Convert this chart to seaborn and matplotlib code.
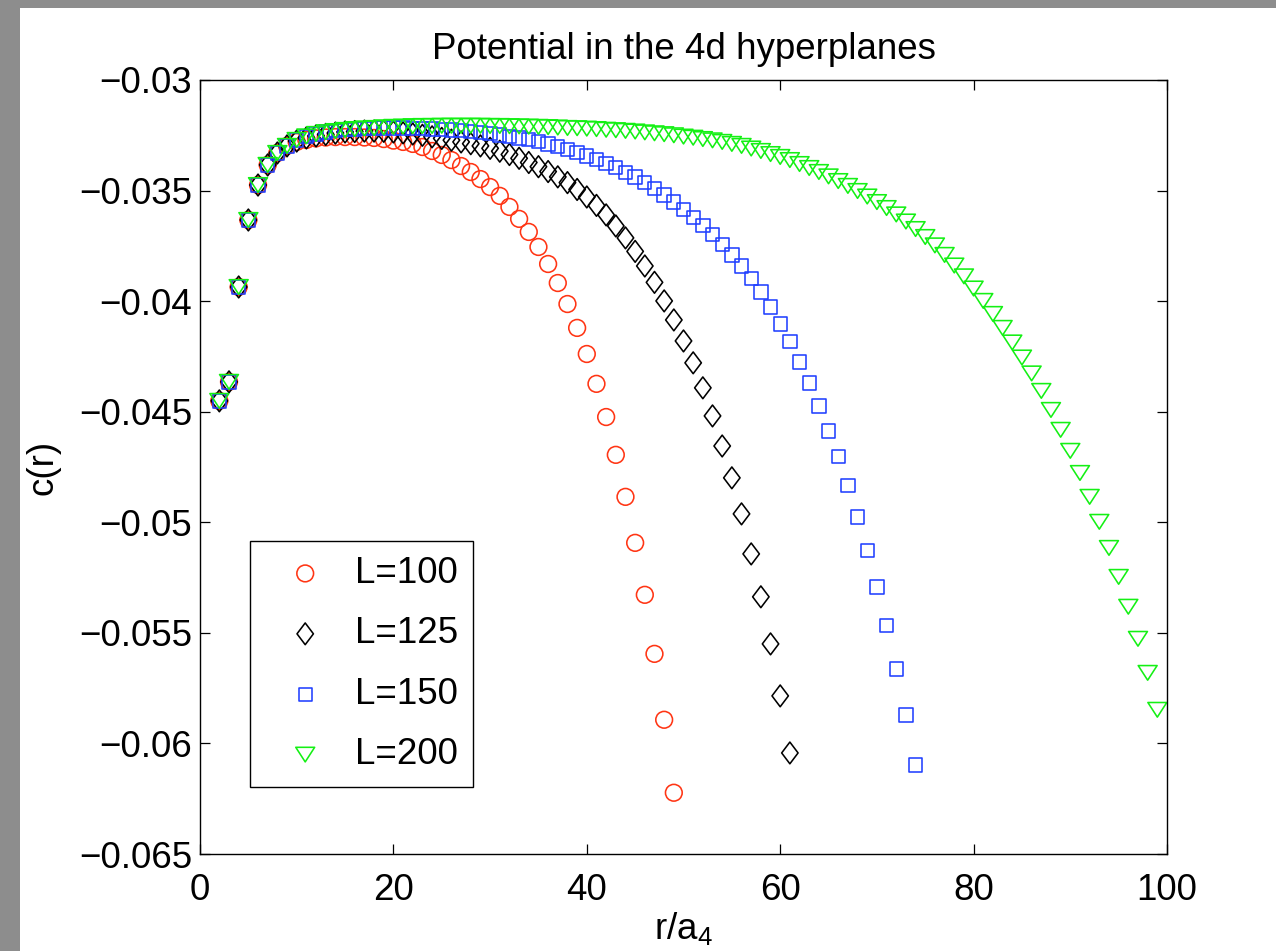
import numpy as np
import pandas as pd
import matplotlib
matplotlib.use("Agg")
import matplotlib.pyplot as plt
from matplotlib.path import Path
from matplotlib.patches import Rectangle
from matplotlib.ticker import FuncFormatter
import seaborn as sns

# Separations r/a_4 sampled for each lattice size L
r_L100 = np.arange(2, 50)
r_L125 = np.arange(2, 62)
r_L150 = np.arange(2, 75)
r_L200 = np.arange(2, 100)

# c(r) values, in units of 1e-3
c_L100 = [-44.51, -43.65, -39.36, -36.33, -34.75, -33.84, -33.30, -32.98,
          -32.80, -32.71, -32.64, -32.60, -32.58, -32.58, -32.58, -32.60, -32.62, -32.67,
          -32.74, -32.80, -32.89, -33.03, -33.21, -33.39, -33.62, -33.89, -34.16, -34.48,
          -34.84, -35.24, -35.74, -36.28, -36.87, -37.55, -38.32, -39.18, -40.13, -41.21,
          -42.39, -43.74, -45.24, -46.95, -48.85, -50.93, -53.28, -55.95, -58.93, -62.23]

c_L125 = [-44.51, -43.65, -39.36, -36.33, -34.75, -33.84, -33.30, -32.98,
          -32.76, -32.62, -32.53, -32.46, -32.40, -32.35, -32.33, -32.31, -32.31, -32.32,
          -32.35, -32.39, -32.44, -32.50, -32.57, -32.64, -32.72, -32.80, -32.88, -32.98,
          -33.09, -33.22, -33.37, -33.54, -33.73, -33.92, -34.14, -34.38, -34.64, -34.95,
          -35.29, -35.67, -36.10, -36.60, -37.14, -37.75, -38.41, -39.15, -39.99, -40.85,
          -41.80, -42.79, -43.92, -45.19, -46.55, -47.99, -49.62, -51.43, -53.37, -55.50,
          -57.85, -60.43]

c_L150 = [-44.51, -43.65, -39.36, -36.33, -34.75, -33.84, -33.30, -32.98,
          -32.71, -32.55, -32.44, -32.35, -32.28, -32.24, -32.21, -32.18, -32.17, -32.17,
          -32.17, -32.17, -32.18, -32.19, -32.21, -32.23, -32.26, -32.29, -32.33, -32.37,
          -32.41, -32.48, -32.55, -32.62, -32.70, -32.79, -32.89, -33.01, -33.14, -33.28,
          -33.43, -33.59, -33.77, -33.96, -34.17, -34.39, -34.64, -34.91, -35.20, -35.52,
          -35.85, -36.21, -36.59, -37.00, -37.44, -37.91, -38.41, -38.97, -39.58, -40.26,
          -41.03, -41.84, -42.75, -43.70, -44.74, -45.87, -47.04, -48.35, -49.76, -51.29,
          -52.92, -54.68, -56.63, -58.71, -60.97]

c_L200 = [-44.51, -43.65, -39.36, -36.33, -34.75, -33.84, -33.30, -32.98,
          -32.71, -32.55, -32.44, -32.36, -32.31, -32.26, -32.22, -32.19, -32.17, -32.14,
          -32.12, -32.11, -32.09, -32.08, -32.08, -32.07, -32.07, -32.07, -32.07, -32.07,
          -32.08, -32.08, -32.09, -32.10, -32.11, -32.12, -32.13, -32.15, -32.17, -32.18,
          -32.20, -32.22, -32.25, -32.27, -32.30, -32.33, -32.37, -32.41, -32.45, -32.50,
          -32.56, -32.61, -32.67, -32.73, -32.80, -32.89, -32.98, -33.10, -33.21, -33.35,
          -33.48, -33.62, -33.80, -33.98, -34.16, -34.36, -34.57, -34.79, -35.02, -35.27,
          -35.52, -35.79, -36.08, -36.40, -36.74, -37.10, -37.48, -37.91, -38.39, -38.88,
          -39.43, -39.99, -40.58, -41.21, -41.87, -42.55, -43.27, -44.06, -44.92, -45.82,
          -46.77, -47.77, -48.85, -49.98, -51.16, -52.47, -53.82, -55.27, -56.81, -58.48]

labels = ["L=100", "L=125", "L=150", "L=200"]
colors = ["#ff3514", "#000000", "#2040ff", "#14f014"]

x_ticks = [0, 20, 40, 60, 80, 100]
y_ticks = [-0.065, -0.06, -0.055, -0.05, -0.045, -0.04, -0.035, -0.03]

frames = []
for lab, r, c in zip(labels, [r_L100, r_L125, r_L150, r_L200],
                     [c_L100, c_L125, c_L150, c_L200]):
    frames.append(pd.DataFrame({"r": r, "c": np.asarray(c) * 1e-3, "L": lab}))
df = pd.concat(frames, ignore_index=True)

sns.set_style("ticks")
plt.rcParams["font.family"] = ["Liberation Sans", "DejaVu Sans"]
plt.rcParams["mathtext.fontset"] = "custom"
plt.rcParams["mathtext.rm"] = "Liberation Sans"
plt.rcParams["axes.unicode_minus"] = True
plt.rcParams["text.color"] = "black"
plt.rcParams["axes.labelcolor"] = "black"
plt.rcParams["xtick.color"] = "black"
plt.rcParams["ytick.color"] = "black"

FS = 26.5

# open markers shaped like the classic MATLAB glyphs
diamond = Path([(0, 1), (0.755, 0), (0, -1), (-0.755, 0), (0, 1)], closed=True)
tri_down = Path([(-1, 0.774), (1, 0.774), (0, -0.774), (-1, 0.774)], closed=True)
markers = ["o", diamond, "s", tri_down]
sizes = [145, 245, 92, 185]

fig = plt.figure(figsize=(12.76, 9.51), dpi=100)
fig.patch.set_facecolor("white")
# grey strips along the top and left edges
fig.patches.append(Rectangle((0, 0), 20 / 1276, 1, transform=fig.transFigure,
                             facecolor="#8d8d8d", edgecolor="none", zorder=-5))
fig.patches.append(Rectangle((0, 1 - 8 / 951), 1, 8 / 951, transform=fig.transFigure,
                             facecolor="#8d8d8d", edgecolor="none", zorder=-5))

ax = fig.add_axes([200 / 1276, 1 - 854 / 951, 967 / 1276, 774 / 951])

for lab, col, m, s in zip(labels, colors, markers, sizes):
    sub = df[df["L"] == lab]
    sns.scatterplot(data=sub, x="r", y="c", ax=ax, marker=m, s=s,
                    color=col, facecolor="none", edgecolor=col,
                    linewidth=1.15, label=lab, legend=False)

ax.set_xlim(0, 100)
ax.set_ylim(-0.065, -0.03)
ax.set_xticks(x_ticks)
ax.set_yticks(y_ticks)
ax.yaxis.set_major_formatter(FuncFormatter(lambda v, p: f"{v:g}".replace("-", "\u2212")))
ax.xaxis.set_major_formatter(FuncFormatter(lambda v, p: f"{v:g}"))

ax.tick_params(axis="both", which="major", direction="in", length=7, width=0.9,
               top=True, right=True, labelsize=FS, colors="black")
ax.tick_params(axis="x", pad=13.5)
ax.tick_params(axis="y", pad=5.8)
for sp in ax.spines.values():
    sp.set_linewidth(1.0)
    sp.set_color("black")

ax.set_title("Potential in the 4d hyperplanes", fontsize=FS, pad=15, color="black")
ax.set_xlabel("r/a$_\\mathregular{4}$", fontsize=FS, labelpad=2, color="black")
ax.set_ylabel("c(r)", fontsize=FS, labelpad=13, color="black")

leg = ax.legend(loc="lower left", bbox_to_anchor=(50 / 967, 67 / 774),
                borderaxespad=0, fontsize=FS, frameon=True, fancybox=False,
                edgecolor="black", framealpha=1, borderpad=0.4,
                handlelength=2.2, handletextpad=0.25, labelspacing=0.69,
                scatterpoints=1)
leg.get_frame().set_linewidth(1.0)
for t in leg.get_texts():
    t.set_color("black")

fig.savefig("out.png", dpi=100)
